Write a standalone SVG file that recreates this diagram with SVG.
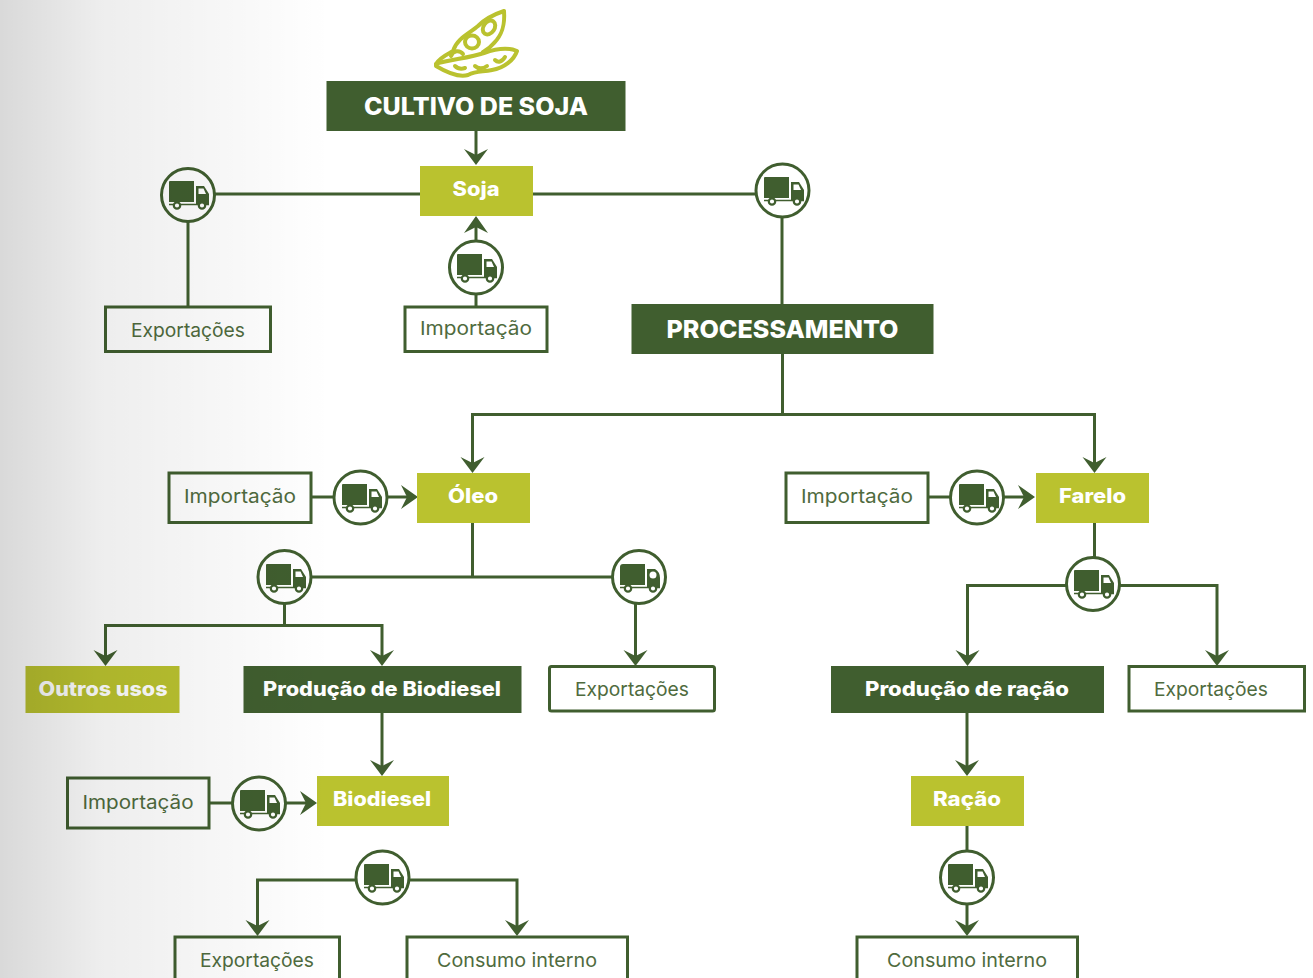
<svg xmlns="http://www.w3.org/2000/svg" width="1313" height="978" viewBox="0 0 1313 978">
<style>
.dk{fill:#405e2f}
.lm{fill:#bac22f}
.bx{fill:#fff;stroke:#405e2f;stroke-width:3}
.c{fill:none;stroke:#405e2f;stroke-width:3}
.t{font-family:Inter,"Noto Sans",sans-serif;text-anchor:middle}
.b{font-weight:800;fill:#fff;font-size:20px}
.n{fill:#4f6b3e;font-size:19px;font-weight:400}
.circ{fill:#fff;stroke:#405e2f;stroke-width:3}
</style>
<defs>
<linearGradient id="shade" x1="0" x2="1" y1="0" y2="0">
<stop offset="0" stop-color="#000" stop-opacity=".15"/>
<stop offset=".3" stop-color="#000" stop-opacity=".07"/>
<stop offset="1" stop-color="#000" stop-opacity="0"/>
</linearGradient>
<symbol id="truck" viewBox="0 0 42 30" overflow="visible">
<path d="M0 1Q0 0 1 0H25V21H0Z" fill="#405e2f"/>
<path d="M27 5H35L40 13V23H27Z" fill="#405e2f"/>
<path d="M29.500 7.500H34.500L37 13H29.500Z" fill="#fff"/>
<path d="M0 23.500H40" stroke="#405e2f" stroke-width="1.5"/>
<circle cx="8" cy="24.500" r="3.200" fill="#fff" stroke="#405e2f" stroke-width="2.200"/>
<circle cx="33" cy="24.500" r="3.200" fill="#fff" stroke="#405e2f" stroke-width="2.200"/>
</symbol>
<symbol id="truck2" viewBox="0 0 42 30" overflow="visible">
<path d="M3 0H25V21H0V3Q0 0 3 0Z" fill="#405e2f"/>
<path d="M27 5H35Q40 8 40 14V23H27Z" fill="#405e2f"/>
<circle cx="33" cy="11" r="3.500" fill="#fff"/>
<path d="M0 23.500H40" stroke="#405e2f" stroke-width="1.5"/>
<circle cx="8" cy="24.500" r="3.200" fill="#fff" stroke="#405e2f" stroke-width="2.200"/>
<circle cx="33" cy="24.500" r="3.200" fill="#fff" stroke="#405e2f" stroke-width="2.200"/>
</symbol>
</defs>
<rect width="1313" height="978" fill="#fff"/>
<g id="connectors" class="c">
<path d="M476 131V155"/>
<path d="M214 194H420"/><path d="M533 194H757"/>
<path d="M188 220V306"/>
<path d="M476 225V242"/><path d="M476 294V306"/>
<path d="M782 217V304"/>
<path d="M782.500 354V414.500H472.500V463"/><path d="M782.500 414.500H1094.500V463"/>
<path d="M311 497H334"/><path d="M387 497H408"/>
<path d="M928 497H951"/><path d="M1004 497H1025"/>
<path d="M472.500 523V577"/><path d="M311 577H613"/>
<path d="M284.500 603V625.500"/><path d="M105.500 656V625.500H382V656"/>
<path d="M635.500 603V656"/>
<path d="M1094.500 523V559"/>
<path d="M1067 585.500H967.500V656"/><path d="M1119 585.500H1217V656"/>
<path d="M382 713V766"/><path d="M967 713V766"/>
<path d="M209 803H233"/><path d="M286 803H307"/>
<path d="M967 826V852"/><path d="M967 904V926"/>
<path d="M356 880H257.500V926"/><path d="M409 880H517V926"/>
</g>
<g id="arrowheads" fill="#405e2f">
<path d="M464 149L476 155L488 149L476 165Z"/>
<path d="M464 233L476 216L488 233L476 227Z"/>
<path d="M460.500 457L472.500 463L484.500 457L472.500 473Z"/>
<path d="M1082.500 457L1094.500 463L1106.500 457L1094.500 473Z"/>
<path d="M401 485L407 497L401 509L418 497Z"/>
<path d="M1018 485L1024 497L1018 509L1035 497Z"/>
<path d="M93.500 650L105.500 656L117.500 650L105.500 666Z"/>
<path d="M370 650L382 656L394 650L382 666Z"/>
<path d="M623.500 650L635.500 656L647.500 650L635.500 666Z"/>
<path d="M955.500 650L967.500 656L979.500 650L967.500 666Z"/>
<path d="M1205 650L1217 656L1229 650L1217 666Z"/>
<path d="M370 760L382 766L394 760L382 776Z"/>
<path d="M955 760L967 766L979 760L967 776Z"/>
<path d="M300 791L306 803L300 815L317 803Z"/>
<path d="M245.500 920L257.500 926L269.500 920L257.500 936Z"/>
<path d="M505 920L517 926L529 920L517 936Z"/>
<path d="M955 920L967 926L979 920L967 936Z"/>
</g>
<g id="soy-icon" fill="none" stroke="#bac22f" stroke-width="4" stroke-linejoin="round" stroke-linecap="round">
<path d="M436 64C440 57 448 54 453 51C457 38 470 33 478 26C486 18 495 14 504 11C505 24 503 34 494 43C490 48 486 50 483 52"/>
<ellipse cx="472" cy="42" rx="7" ry="6.500"/><ellipse cx="489" cy="27.500" rx="5.500" ry="7.500" transform="rotate(35 489 27.500)"/>
<path d="M451 56C453 50 460 50 463 54"/>
<path d="M436 64C446 60 470 58 484 53C495 49 508 47 517 51C514 60 504 68 492 70C482 72 476 71 468 75C458 78 446 72 436 66Z"/>
<path d="M455 66C458 69 462 69 465 68"/><path d="M475 66C478 69 483 69 487 66"/><path d="M495 60C498 63 502 62 505 57"/>
</g>
<g id="n-cultivo"><rect class="dk" x="326.500" y="81" width="299" height="50"/><text class="t b" x="476" y="114.500" style="font-size:24px" textLength="224" lengthAdjust="spacingAndGlyphs">CULTIVO DE SOJA</text></g>
<g id="n-soja"><rect class="lm" x="420" y="166" width="113" height="50"/><text class="t b" x="476" y="196" textLength="47" lengthAdjust="spacingAndGlyphs">Soja</text></g>
<g id="n-exp1"><rect class="bx" x="105.500" y="307" width="165" height="44.500"/><text class="t n" x="188" y="336.500" textLength="114" lengthAdjust="spacingAndGlyphs">Exportações</text></g>
<g id="n-imp1"><rect class="bx" x="405" y="307" width="142" height="44.500"/><text class="t n" x="476" y="335" textLength="112" lengthAdjust="spacingAndGlyphs">Importação</text></g>
<g id="n-proc"><rect class="dk" x="631.500" y="304" width="302" height="50"/><text class="t b" style="font-size:25px" x="782.500" y="338" textLength="232" lengthAdjust="spacingAndGlyphs">PROCESSAMENTO</text></g>
<g id="n-oleo"><rect class="lm" x="417" y="473" width="113" height="50"/><text class="t b" x="473" y="503" textLength="50" lengthAdjust="spacingAndGlyphs">Óleo</text></g>
<g id="n-farelo"><rect class="lm" x="1036" y="473" width="113" height="50"/><text class="t b" x="1092.500" y="503" textLength="67" lengthAdjust="spacingAndGlyphs">Farelo</text></g>
<g id="n-imp2"><rect class="bx" x="169" y="473" width="142" height="49.500"/><text class="t n" x="240" y="503" textLength="112" lengthAdjust="spacingAndGlyphs">Importação</text></g>
<g id="n-imp3"><rect class="bx" x="786" y="473" width="142" height="49.500"/><text class="t n" x="857" y="503" textLength="112" lengthAdjust="spacingAndGlyphs">Importação</text></g>
<g id="n-outros"><rect class="lm" x="25.500" y="666" width="154" height="47"/><text class="t b" x="103" y="696" textLength="129" lengthAdjust="spacingAndGlyphs">Outros usos</text></g>
<g id="n-biod"><rect class="dk" x="243.500" y="666" width="278" height="47"/><text class="t b" x="382" y="696" textLength="238" lengthAdjust="spacingAndGlyphs">Produção de Biodiesel</text></g>
<g id="n-exp2"><rect class="bx" x="549.500" y="666.500" width="165" height="44.500" rx="2"/><text class="t n" x="632" y="695.500" textLength="114" lengthAdjust="spacingAndGlyphs">Exportações</text></g>
<g id="n-racaop"><rect class="dk" x="831" y="666" width="273" height="47"/><text class="t b" x="967" y="696" textLength="204" lengthAdjust="spacingAndGlyphs">Produção de ração</text></g>
<g id="n-exp3"><rect class="bx" x="1129" y="666.500" width="175.500" height="44.500"/><text class="t n" x="1211" y="695.500" textLength="114" lengthAdjust="spacingAndGlyphs">Exportações</text></g>
<g id="n-imp4"><rect class="bx" x="67.500" y="778" width="141.500" height="50"/><text class="t n" x="138" y="808.500" textLength="111" lengthAdjust="spacingAndGlyphs">Importação</text></g>
<g id="n-biodiesel"><rect class="lm" x="317" y="776" width="132" height="50"/><text class="t b" x="382" y="806" textLength="98" lengthAdjust="spacingAndGlyphs">Biodiesel</text></g>
<g id="n-racao"><rect class="lm" x="911" y="776" width="113" height="50"/><text class="t b" x="967" y="806" textLength="68" lengthAdjust="spacingAndGlyphs">Ração</text></g>
<g id="n-exp4"><rect class="bx" x="175" y="937" width="164.500" height="50"/><text class="t n" x="257" y="966.500" textLength="114" lengthAdjust="spacingAndGlyphs">Exportações</text></g>
<g id="n-cons1"><rect class="bx" x="407" y="937" width="220.500" height="50"/><text class="t n" x="517" y="966.500" textLength="160" lengthAdjust="spacingAndGlyphs">Consumo interno</text></g>
<g id="n-cons2"><rect class="bx" x="857" y="937" width="220.500" height="50"/><text class="t n" x="967" y="966.500" textLength="160" lengthAdjust="spacingAndGlyphs">Consumo interno</text></g>
<g id="trucks">
<g id="tr1"><circle class="circ" cx="188" cy="195" r="26.500"/><use href="#truck" x="169" y="181" width="42" height="30"/></g>
<g id="tr2"><circle class="circ" cx="782.500" cy="190.500" r="26.500"/><use href="#truck" x="764" y="177" width="42" height="30"/></g>
<g id="tr3"><circle class="circ" cx="476" cy="267.500" r="26.500"/><use href="#truck" x="457" y="254" width="42" height="30"/></g>
<g id="tr4"><circle class="circ" cx="360.500" cy="497.500" r="26.500"/><use href="#truck" x="342" y="484" width="42" height="30"/></g>
<g id="tr5"><circle class="circ" cx="977" cy="497.500" r="26.500"/><use href="#truck" x="959" y="484" width="42" height="30"/></g>
<g id="tr6"><circle class="circ" cx="284.500" cy="577" r="26.500"/><use href="#truck" x="266" y="564" width="42" height="30"/></g>
<g id="tr7"><circle class="circ" cx="639" cy="577" r="26.500"/><use href="#truck2" x="620" y="564" width="42" height="30"/></g>
<g id="tr8"><circle class="circ" cx="1093" cy="584" r="26.500"/><use href="#truck" x="1074" y="570" width="42" height="30"/></g>
<g id="tr9"><circle class="circ" cx="259" cy="803.500" r="26.500"/><use href="#truck" x="240" y="790" width="42" height="30"/></g>
<g id="tr10"><circle class="circ" cx="382.500" cy="877.500" r="26.500"/><use href="#truck" x="364" y="864" width="42" height="30"/></g>
<g id="tr11"><circle class="circ" cx="967" cy="877.500" r="26.500"/><use href="#truck" x="948" y="864" width="42" height="30"/></g>
</g>
<rect id="shade-overlay" width="330" height="978" fill="url(#shade)"/>
</svg>
